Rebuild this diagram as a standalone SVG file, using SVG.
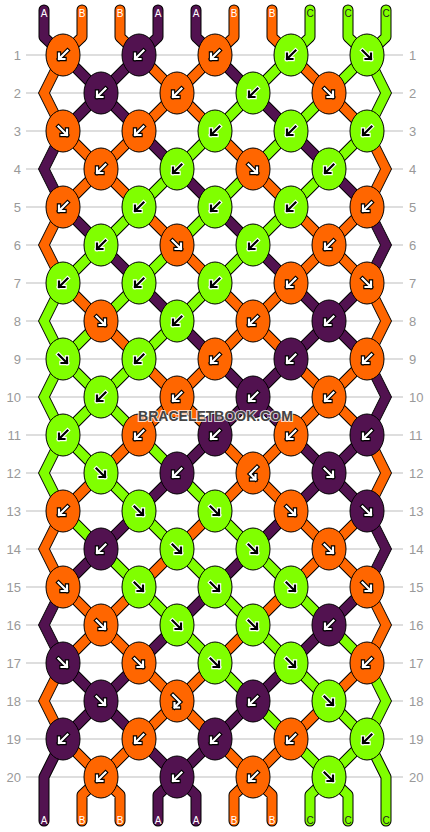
<svg xmlns="http://www.w3.org/2000/svg" xmlns:xlink="http://www.w3.org/1999/xlink" width="430" height="832" viewBox="0 0 430 832">
<style>
.grid{stroke:#bdbdbd;stroke-width:1.2}
.so{fill:none;stroke:#000;stroke-width:11}
.sa{fill:none;stroke:#521250;stroke-width:9}
.sb{fill:none;stroke:#ff6600;stroke-width:9}
.sc{fill:none;stroke:#80ff00;stroke-width:9}
.to{fill:none;stroke:#000;stroke-width:11;stroke-linecap:round;stroke-linejoin:round}
.ta{fill:none;stroke:#521250;stroke-width:9;stroke-linecap:round;stroke-linejoin:round}
.tb{fill:none;stroke:#ff6600;stroke-width:9;stroke-linecap:round;stroke-linejoin:round}
.tc{fill:none;stroke:#80ff00;stroke-width:9;stroke-linecap:round;stroke-linejoin:round}
.edge{stroke:#000;stroke-width:1}
.fa{fill:#521250}.fb{fill:#ff6600}.fc{fill:#80ff00}
.k{stroke:#000;stroke-width:1}
.ok{fill:none;stroke:#000;stroke-width:4.4;stroke-linecap:square}
.iw{fill:none;stroke:#fff;stroke-width:2.2;stroke-linecap:square}
.ow{fill:none;stroke:#fff;stroke-width:4.4;stroke-linecap:square}
.ik{fill:none;stroke:#000;stroke-width:2.2;stroke-linecap:square}
.rn{font-family:"Liberation Sans",Arial,sans-serif;font-size:13px;fill:#999}
.sl{font-family:"Liberation Sans",Arial,sans-serif;font-size:10px;text-anchor:middle}
.lw{fill:#fff}.lk{fill:#222}
.wm{font-family:"Liberation Sans",Arial,sans-serif;font-weight:bold;font-size:14px;fill:#444;stroke:#fff;stroke-width:2;stroke-opacity:0.8;paint-order:stroke;text-anchor:middle}
</style>
<defs>
<path id="sA" d="M63 55L101 93M139 55L101 93M215 55L253 93M101 93L63 131M101 93L139 131M253 93L291 131M139 131L177 169M291 131L329 169M177 169L215 207M329 169L367 207M63 207L101 245M215 207L253 245M101 245L139 283M253 245L291 283M139 283L177 321M291 283L329 321M367 283L329 321M177 321L215 359M329 321L291 359M329 321L367 359M215 359L253 397M291 359L253 397M253 397L215 435M253 397L291 435M215 435L177 473M291 435L329 473M367 435L329 473M177 473L139 511M329 473L291 511M329 473L367 511M139 511L101 549M291 511L253 549M101 549L63 587M253 549L215 587M215 587L177 625M367 587L329 625M177 625L139 663M329 625L291 663M63 663L101 701M139 663L101 701M291 663L253 701M101 701L63 739M101 701L139 739M253 701L215 739M139 739L177 777M215 739L177 777"/>
<path id="sB" d="M139 55L177 93M215 55L177 93M291 55L329 93M177 93L139 131M177 93L215 131M329 93L367 131M63 131L101 169M139 131L101 169M215 131L253 169M101 169L63 207M101 169L139 207M253 169L291 207M139 207L177 245M291 207L329 245M367 207L329 245M177 245L215 283M329 245L291 283M329 245L367 283M63 283L101 321M215 283L253 321M291 283L253 321M101 321L139 359M253 321L215 359M253 321L291 359M139 359L177 397M215 359L177 397M291 359L329 397M367 359L329 397M177 397L139 435M177 397L215 435M329 397L291 435M329 397L367 435M139 435L101 473M215 435L253 473M291 435L253 473M101 473L63 511M253 473L215 511M253 473L291 511M215 511L177 549M291 511L329 549M367 511L329 549M177 549L139 587M329 549L291 587M329 549L367 587M63 587L101 625M139 587L101 625M291 587L253 625M101 625L63 663M101 625L139 663M253 625L215 663M139 663L177 701M215 663L177 701M367 663L329 701M177 701L139 739M177 701L215 739M329 701L291 739M63 739L101 777M139 739L101 777M215 739L253 777M291 739L253 777"/>
<path id="sC" d="M291 55L253 93M367 55L329 93M253 93L215 131M329 93L291 131M215 131L177 169M291 131L253 169M367 131L329 169M177 169L139 207M253 169L215 207M329 169L291 207M139 207L101 245M215 207L177 245M291 207L253 245M101 245L63 283M177 245L139 283M253 245L215 283M139 283L101 321M215 283L177 321M101 321L63 359M177 321L139 359M63 359L101 397M139 359L101 397M101 397L63 435M101 397L139 435M63 435L101 473M139 435L177 473M101 473L139 511M177 473L215 511M63 511L101 549M139 511L177 549M215 511L253 549M101 549L139 587M177 549L215 587M253 549L291 587M139 587L177 625M215 587L253 625M291 587L329 625M177 625L215 663M253 625L291 663M329 625L367 663M215 663L253 701M291 663L329 701M253 701L291 739M329 701L367 739M291 739L329 777M367 739L329 777"/>
<path id="tA" d="M44 10V37L63 55M158 10V37L139 55M196 10V37L215 55M63 739L44 777V821M177 777L158 795V821M177 777L196 795V821"/>
<path id="tB" d="M82 10V37L63 55M120 10V37L139 55M234 10V37L215 55M272 10V37L291 55M101 777L82 795V821M101 777L120 795V821M253 777L234 795V821M253 777L272 795V821"/>
<path id="tC" d="M310 10V37L291 55M348 10V37L367 55M386 10V37L367 55M329 777L310 795V821M329 777L348 795V821M367 739L386 777V821"/>
<path id="le" class="edge" d="M57.5 -38H68.5L49.5 0L68.5 38H57.5L38.5 0Z"/>
<path id="re" class="edge" d="M361.5 -38H372.5L391.5 0L372.5 38H361.5L380.5 0Z"/>
<path id="pbl" d="M4.5 -4.5L-4 4M-4 -1.5V4H1.5"/>
<path id="pbr" d="M-4.5 -4.5L4 4M4 -1.5V4H-1.5"/>
<path id="pbf" d="M4 -6L-3 1L2.5 6.5M2.5 2V6.5H-2"/>
<path id="pfb" d="M-4 -6L3 1L-2.5 6.5M-2.5 2V6.5H2"/>
<g id="blw"><use href="#pbl" class="ok"/><use href="#pbl" class="iw"/></g>
<g id="blk"><use href="#pbl" class="ow"/><use href="#pbl" class="ik"/></g>
<g id="brw"><use href="#pbr" class="ok"/><use href="#pbr" class="iw"/></g>
<g id="brk"><use href="#pbr" class="ow"/><use href="#pbr" class="ik"/></g>
<g id="bfw"><use href="#pbf" class="ok"/><use href="#pbf" class="iw"/></g>
<g id="fbw"><use href="#pfb" class="ok"/><use href="#pfb" class="iw"/></g>
</defs>
<rect width="430" height="832" fill="#fff"/>
<g id="grid">
<path class="grid" d="M26 55H403M26 93H403M26 131H403M26 169H403M26 207H403M26 245H403M26 283H403M26 321H403M26 359H403M26 397H403M26 435H403M26 473H403M26 511H403M26 549H403M26 587H403M26 625H403M26 663H403M26 701H403M26 739H403M26 777H403"/>
</g>
<g id="row-numbers">
<g class="rn" text-anchor="end">
<text x="21" y="59.5">1</text><text x="21" y="97.5">2</text><text x="21" y="135.5">3</text><text x="21" y="173.5">4</text><text x="21" y="211.5">5</text><text x="21" y="249.5">6</text><text x="21" y="287.5">7</text><text x="21" y="325.5">8</text><text x="21" y="363.5">9</text><text x="21" y="401.5">10</text><text x="21" y="439.5">11</text><text x="21" y="477.5">12</text><text x="21" y="515.5">13</text><text x="21" y="553.5">14</text><text x="21" y="591.5">15</text><text x="21" y="629.5">16</text><text x="21" y="667.5">17</text><text x="21" y="705.5">18</text><text x="21" y="743.5">19</text><text x="21" y="781.5">20</text>
</g>
<g class="rn" text-anchor="start">
<text x="409" y="59.5">1</text><text x="409" y="97.5">2</text><text x="409" y="135.5">3</text><text x="409" y="173.5">4</text><text x="409" y="211.5">5</text><text x="409" y="249.5">6</text><text x="409" y="287.5">7</text><text x="409" y="325.5">8</text><text x="409" y="363.5">9</text><text x="409" y="401.5">10</text><text x="409" y="439.5">11</text><text x="409" y="477.5">12</text><text x="409" y="515.5">13</text><text x="409" y="553.5">14</text><text x="409" y="591.5">15</text><text x="409" y="629.5">16</text><text x="409" y="667.5">17</text><text x="409" y="705.5">18</text><text x="409" y="743.5">19</text><text x="409" y="781.5">20</text>
</g>
</g>
<g id="connectors">
<use href="#tA" class="to"/><use href="#tB" class="to"/><use href="#tC" class="to"/>
<use href="#tA" class="ta"/><use href="#tB" class="tb"/><use href="#tC" class="tc"/>
<use href="#sA" class="so"/><use href="#sB" class="so"/><use href="#sC" class="so"/>
<use href="#sA" class="sa"/><use href="#sB" class="sb"/><use href="#sC" class="sc"/>
<use href="#le" class="fb" y="93"/><use href="#le" class="fa" y="169"/><use href="#le" class="fb" y="245"/><use href="#le" class="fc" y="321"/><use href="#le" class="fc" y="397"/><use href="#le" class="fc" y="473"/><use href="#le" class="fb" y="549"/><use href="#le" class="fa" y="625"/><use href="#le" class="fb" y="701"/>
<use href="#re" class="fc" y="93"/><use href="#re" class="fb" y="169"/><use href="#re" class="fa" y="245"/><use href="#re" class="fb" y="321"/><use href="#re" class="fa" y="397"/><use href="#re" class="fb" y="473"/><use href="#re" class="fa" y="549"/><use href="#re" class="fb" y="625"/><use href="#re" class="fc" y="701"/>
</g>
<g id="string-labels" class="sl">
<text class="lw" x="44" y="16.5">A</text><text class="lw" x="82" y="16.5">B</text><text class="lw" x="120" y="16.5">B</text><text class="lw" x="158" y="16.5">A</text><text class="lw" x="196" y="16.5">A</text><text class="lw" x="234" y="16.5">B</text><text class="lw" x="272" y="16.5">B</text><text class="lk" x="310" y="16.5">C</text><text class="lk" x="348" y="16.5">C</text><text class="lk" x="386" y="16.5">C</text>
<text class="lw" x="44" y="824">A</text><text class="lw" x="82" y="824">B</text><text class="lw" x="120" y="824">B</text><text class="lw" x="158" y="824">A</text><text class="lw" x="196" y="824">A</text><text class="lw" x="234" y="824">B</text><text class="lw" x="272" y="824">B</text><text class="lk" x="310" y="824">C</text><text class="lk" x="348" y="824">C</text><text class="lk" x="386" y="824">C</text>
</g>
<g id="knots">
<g id="k1-1"><ellipse class="k fb" cx="63" cy="55" rx="17" ry="21"/><use href="#blw" x="63" y="55"/></g>
<g id="k1-2"><ellipse class="k fa" cx="139" cy="55" rx="17" ry="21"/><use href="#blw" x="139" y="55"/></g>
<g id="k1-3"><ellipse class="k fb" cx="215" cy="55" rx="17" ry="21"/><use href="#blw" x="215" y="55"/></g>
<g id="k1-4"><ellipse class="k fc" cx="291" cy="55" rx="17" ry="21"/><use href="#blk" x="291" y="55"/></g>
<g id="k1-5"><ellipse class="k fc" cx="367" cy="55" rx="17" ry="21"/><use href="#brk" x="367" y="55"/></g>
<g id="k2-1"><ellipse class="k fa" cx="101" cy="93" rx="17" ry="21"/><use href="#blw" x="101" y="93"/></g>
<g id="k2-2"><ellipse class="k fb" cx="177" cy="93" rx="17" ry="21"/><use href="#blw" x="177" y="93"/></g>
<g id="k2-3"><ellipse class="k fc" cx="253" cy="93" rx="17" ry="21"/><use href="#blk" x="253" y="93"/></g>
<g id="k2-4"><ellipse class="k fb" cx="329" cy="93" rx="17" ry="21"/><use href="#brw" x="329" y="93"/></g>
<g id="k3-1"><ellipse class="k fb" cx="63" cy="131" rx="17" ry="21"/><use href="#brw" x="63" y="131"/></g>
<g id="k3-2"><ellipse class="k fb" cx="139" cy="131" rx="17" ry="21"/><use href="#blw" x="139" y="131"/></g>
<g id="k3-3"><ellipse class="k fc" cx="215" cy="131" rx="17" ry="21"/><use href="#blk" x="215" y="131"/></g>
<g id="k3-4"><ellipse class="k fc" cx="291" cy="131" rx="17" ry="21"/><use href="#blk" x="291" y="131"/></g>
<g id="k3-5"><ellipse class="k fc" cx="367" cy="131" rx="17" ry="21"/><use href="#blk" x="367" y="131"/></g>
<g id="k4-1"><ellipse class="k fb" cx="101" cy="169" rx="17" ry="21"/><use href="#blw" x="101" y="169"/></g>
<g id="k4-2"><ellipse class="k fc" cx="177" cy="169" rx="17" ry="21"/><use href="#blk" x="177" y="169"/></g>
<g id="k4-3"><ellipse class="k fb" cx="253" cy="169" rx="17" ry="21"/><use href="#brw" x="253" y="169"/></g>
<g id="k4-4"><ellipse class="k fc" cx="329" cy="169" rx="17" ry="21"/><use href="#blk" x="329" y="169"/></g>
<g id="k5-1"><ellipse class="k fb" cx="63" cy="207" rx="17" ry="21"/><use href="#blw" x="63" y="207"/></g>
<g id="k5-2"><ellipse class="k fc" cx="139" cy="207" rx="17" ry="21"/><use href="#blk" x="139" y="207"/></g>
<g id="k5-3"><ellipse class="k fc" cx="215" cy="207" rx="17" ry="21"/><use href="#blk" x="215" y="207"/></g>
<g id="k5-4"><ellipse class="k fc" cx="291" cy="207" rx="17" ry="21"/><use href="#blk" x="291" y="207"/></g>
<g id="k5-5"><ellipse class="k fb" cx="367" cy="207" rx="17" ry="21"/><use href="#blw" x="367" y="207"/></g>
<g id="k6-1"><ellipse class="k fc" cx="101" cy="245" rx="17" ry="21"/><use href="#blk" x="101" y="245"/></g>
<g id="k6-2"><ellipse class="k fb" cx="177" cy="245" rx="17" ry="21"/><use href="#brw" x="177" y="245"/></g>
<g id="k6-3"><ellipse class="k fc" cx="253" cy="245" rx="17" ry="21"/><use href="#blk" x="253" y="245"/></g>
<g id="k6-4"><ellipse class="k fb" cx="329" cy="245" rx="17" ry="21"/><use href="#blw" x="329" y="245"/></g>
<g id="k7-1"><ellipse class="k fc" cx="63" cy="283" rx="17" ry="21"/><use href="#blk" x="63" y="283"/></g>
<g id="k7-2"><ellipse class="k fc" cx="139" cy="283" rx="17" ry="21"/><use href="#blk" x="139" y="283"/></g>
<g id="k7-3"><ellipse class="k fc" cx="215" cy="283" rx="17" ry="21"/><use href="#blk" x="215" y="283"/></g>
<g id="k7-4"><ellipse class="k fb" cx="291" cy="283" rx="17" ry="21"/><use href="#blw" x="291" y="283"/></g>
<g id="k7-5"><ellipse class="k fb" cx="367" cy="283" rx="17" ry="21"/><use href="#brw" x="367" y="283"/></g>
<g id="k8-1"><ellipse class="k fb" cx="101" cy="321" rx="17" ry="21"/><use href="#brw" x="101" y="321"/></g>
<g id="k8-2"><ellipse class="k fc" cx="177" cy="321" rx="17" ry="21"/><use href="#blk" x="177" y="321"/></g>
<g id="k8-3"><ellipse class="k fb" cx="253" cy="321" rx="17" ry="21"/><use href="#blw" x="253" y="321"/></g>
<g id="k8-4"><ellipse class="k fa" cx="329" cy="321" rx="17" ry="21"/><use href="#blw" x="329" y="321"/></g>
<g id="k9-1"><ellipse class="k fc" cx="63" cy="359" rx="17" ry="21"/><use href="#brk" x="63" y="359"/></g>
<g id="k9-2"><ellipse class="k fc" cx="139" cy="359" rx="17" ry="21"/><use href="#blk" x="139" y="359"/></g>
<g id="k9-3"><ellipse class="k fb" cx="215" cy="359" rx="17" ry="21"/><use href="#blw" x="215" y="359"/></g>
<g id="k9-4"><ellipse class="k fa" cx="291" cy="359" rx="17" ry="21"/><use href="#blw" x="291" y="359"/></g>
<g id="k9-5"><ellipse class="k fb" cx="367" cy="359" rx="17" ry="21"/><use href="#blw" x="367" y="359"/></g>
<g id="k10-1"><ellipse class="k fc" cx="101" cy="397" rx="17" ry="21"/><use href="#blk" x="101" y="397"/></g>
<g id="k10-2"><ellipse class="k fb" cx="177" cy="397" rx="17" ry="21"/><use href="#blw" x="177" y="397"/></g>
<g id="k10-3"><ellipse class="k fa" cx="253" cy="397" rx="17" ry="21"/><use href="#blw" x="253" y="397"/></g>
<g id="k10-4"><ellipse class="k fb" cx="329" cy="397" rx="17" ry="21"/><use href="#blw" x="329" y="397"/></g>
<g id="k11-1"><ellipse class="k fc" cx="63" cy="435" rx="17" ry="21"/><use href="#blk" x="63" y="435"/></g>
<g id="k11-2"><ellipse class="k fb" cx="139" cy="435" rx="17" ry="21"/><use href="#blw" x="139" y="435"/></g>
<g id="k11-3"><ellipse class="k fa" cx="215" cy="435" rx="17" ry="21"/><use href="#blw" x="215" y="435"/></g>
<g id="k11-4"><ellipse class="k fb" cx="291" cy="435" rx="17" ry="21"/><use href="#blw" x="291" y="435"/></g>
<g id="k11-5"><ellipse class="k fa" cx="367" cy="435" rx="17" ry="21"/><use href="#blw" x="367" y="435"/></g>
<g id="k12-1"><ellipse class="k fc" cx="101" cy="473" rx="17" ry="21"/><use href="#brk" x="101" y="473"/></g>
<g id="k12-2"><ellipse class="k fa" cx="177" cy="473" rx="17" ry="21"/><use href="#blw" x="177" y="473"/></g>
<g id="k12-3"><ellipse class="k fb" cx="253" cy="473" rx="17" ry="21"/><use href="#bfw" x="253" y="473"/></g>
<g id="k12-4"><ellipse class="k fa" cx="329" cy="473" rx="17" ry="21"/><use href="#brw" x="329" y="473"/></g>
<g id="k13-1"><ellipse class="k fb" cx="63" cy="511" rx="17" ry="21"/><use href="#blw" x="63" y="511"/></g>
<g id="k13-2"><ellipse class="k fc" cx="139" cy="511" rx="17" ry="21"/><use href="#brk" x="139" y="511"/></g>
<g id="k13-3"><ellipse class="k fc" cx="215" cy="511" rx="17" ry="21"/><use href="#brk" x="215" y="511"/></g>
<g id="k13-4"><ellipse class="k fb" cx="291" cy="511" rx="17" ry="21"/><use href="#brw" x="291" y="511"/></g>
<g id="k13-5"><ellipse class="k fa" cx="367" cy="511" rx="17" ry="21"/><use href="#brw" x="367" y="511"/></g>
<g id="k14-1"><ellipse class="k fa" cx="101" cy="549" rx="17" ry="21"/><use href="#blw" x="101" y="549"/></g>
<g id="k14-2"><ellipse class="k fc" cx="177" cy="549" rx="17" ry="21"/><use href="#brk" x="177" y="549"/></g>
<g id="k14-3"><ellipse class="k fc" cx="253" cy="549" rx="17" ry="21"/><use href="#brk" x="253" y="549"/></g>
<g id="k14-4"><ellipse class="k fb" cx="329" cy="549" rx="17" ry="21"/><use href="#brw" x="329" y="549"/></g>
<g id="k15-1"><ellipse class="k fb" cx="63" cy="587" rx="17" ry="21"/><use href="#brw" x="63" y="587"/></g>
<g id="k15-2"><ellipse class="k fc" cx="139" cy="587" rx="17" ry="21"/><use href="#brk" x="139" y="587"/></g>
<g id="k15-3"><ellipse class="k fc" cx="215" cy="587" rx="17" ry="21"/><use href="#brk" x="215" y="587"/></g>
<g id="k15-4"><ellipse class="k fc" cx="291" cy="587" rx="17" ry="21"/><use href="#brk" x="291" y="587"/></g>
<g id="k15-5"><ellipse class="k fb" cx="367" cy="587" rx="17" ry="21"/><use href="#brw" x="367" y="587"/></g>
<g id="k16-1"><ellipse class="k fb" cx="101" cy="625" rx="17" ry="21"/><use href="#brw" x="101" y="625"/></g>
<g id="k16-2"><ellipse class="k fc" cx="177" cy="625" rx="17" ry="21"/><use href="#brk" x="177" y="625"/></g>
<g id="k16-3"><ellipse class="k fc" cx="253" cy="625" rx="17" ry="21"/><use href="#brk" x="253" y="625"/></g>
<g id="k16-4"><ellipse class="k fa" cx="329" cy="625" rx="17" ry="21"/><use href="#blw" x="329" y="625"/></g>
<g id="k17-1"><ellipse class="k fa" cx="63" cy="663" rx="17" ry="21"/><use href="#brw" x="63" y="663"/></g>
<g id="k17-2"><ellipse class="k fb" cx="139" cy="663" rx="17" ry="21"/><use href="#brw" x="139" y="663"/></g>
<g id="k17-3"><ellipse class="k fc" cx="215" cy="663" rx="17" ry="21"/><use href="#brk" x="215" y="663"/></g>
<g id="k17-4"><ellipse class="k fc" cx="291" cy="663" rx="17" ry="21"/><use href="#brk" x="291" y="663"/></g>
<g id="k17-5"><ellipse class="k fb" cx="367" cy="663" rx="17" ry="21"/><use href="#blw" x="367" y="663"/></g>
<g id="k18-1"><ellipse class="k fa" cx="101" cy="701" rx="17" ry="21"/><use href="#brw" x="101" y="701"/></g>
<g id="k18-2"><ellipse class="k fb" cx="177" cy="701" rx="17" ry="21"/><use href="#fbw" x="177" y="701"/></g>
<g id="k18-3"><ellipse class="k fa" cx="253" cy="701" rx="17" ry="21"/><use href="#blw" x="253" y="701"/></g>
<g id="k18-4"><ellipse class="k fc" cx="329" cy="701" rx="17" ry="21"/><use href="#brk" x="329" y="701"/></g>
<g id="k19-1"><ellipse class="k fa" cx="63" cy="739" rx="17" ry="21"/><use href="#blw" x="63" y="739"/></g>
<g id="k19-2"><ellipse class="k fb" cx="139" cy="739" rx="17" ry="21"/><use href="#blw" x="139" y="739"/></g>
<g id="k19-3"><ellipse class="k fa" cx="215" cy="739" rx="17" ry="21"/><use href="#blw" x="215" y="739"/></g>
<g id="k19-4"><ellipse class="k fb" cx="291" cy="739" rx="17" ry="21"/><use href="#blw" x="291" y="739"/></g>
<g id="k19-5"><ellipse class="k fc" cx="367" cy="739" rx="17" ry="21"/><use href="#blk" x="367" y="739"/></g>
<g id="k20-1"><ellipse class="k fb" cx="101" cy="777" rx="17" ry="21"/><use href="#blw" x="101" y="777"/></g>
<g id="k20-2"><ellipse class="k fa" cx="177" cy="777" rx="17" ry="21"/><use href="#blw" x="177" y="777"/></g>
<g id="k20-3"><ellipse class="k fb" cx="253" cy="777" rx="17" ry="21"/><use href="#blw" x="253" y="777"/></g>
<g id="k20-4"><ellipse class="k fc" cx="329" cy="777" rx="17" ry="21"/><use href="#brk" x="329" y="777"/></g>
</g>
<text class="wm" x="215.5" y="421">BRACELETBOOK.COM</text>
</svg>
